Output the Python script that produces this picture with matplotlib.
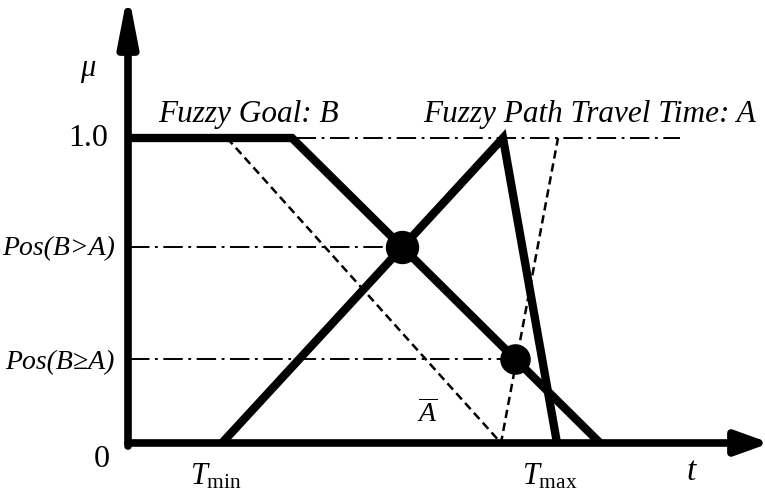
import matplotlib
matplotlib.use('Agg')
import numpy as np
from matplotlib import pyplot as plt

plt.rcParams['font.family'] = ['Liberation Serif', 'DejaVu Serif']
plt.rcParams['mathtext.fontset'] = 'custom'
plt.rcParams['mathtext.rm'] = 'Liberation Serif'
plt.rcParams['mathtext.it'] = 'Liberation Serif:italic'
plt.rcParams['lines.scale_dashes'] = False

# fuzzy goal B (trapezoid going down)
goal_t = [0.0, 1.62, 4.70]
goal_mu = [1.0, 1.0, 0.0]

# fuzzy path travel time A (triangle)
path_t = [0.92, 3.73, 4.27]
path_mu = [0.0, 1.0, 0.0]

# A-bar (dashed, mirrored)
abar_t = [0.97, 3.71, 4.28]
abar_mu = [1.0, 0.0, 1.0]

pos_strict = 0.643   # Pos(B>A)
pos_weak = 0.275     # Pos(B>=A)
top_line_end = 5.50

t_min = 0.92
t_max = 4.27


def goal_at(mu):
    # t on falling edge of B for a given membership
    return np.interp(-mu, [-1.0, 0.0], [goal_t[1], goal_t[2]])


fig = plt.figure(figsize=(7.65, 4.93), dpi=100)
ax = fig.add_axes([0, 0, 1, 1])
ax.set_xlim(-1.30, 6.35)
ax.set_ylim(-0.164, 1.4525)
ax.axis('off')

dashdot = (0, (14, 4, 2, 4))
dashed = (0, (6, 3.5))

# dash-dot reference lines
ax.plot([0, top_line_end], [1.0, 1.0], color='black', lw=1.4, linestyle=dashdot)
ax.plot([0, goal_at(pos_strict)], [pos_strict, pos_strict], color='black', lw=1.4, linestyle=dashdot)
ax.plot([0, goal_at(pos_weak)], [pos_weak, pos_weak], color='black', lw=1.4, linestyle=dashdot)

# A bar
ax.plot(abar_t, abar_mu, color='black', lw=1.8, linestyle=dashed)

# B and A
ax.plot(goal_t, goal_mu, color='black', lw=6, solid_joinstyle='miter', solid_capstyle='butt')
ax.plot(path_t, path_mu, color='black', lw=6, solid_joinstyle='miter', solid_capstyle='butt')

# intersection points
ax.plot(goal_at(pos_strict), pos_strict, 'o', color='black', markersize=23)
ax.plot(goal_at(pos_weak), pos_weak, 'o', color='black', markersize=21)

# axes with arrows
ax.annotate('', xy=(6.40, 0), xytext=(-0.02, 0), annotation_clip=False,
            arrowprops=dict(arrowstyle='-|>,head_length=1.0,head_width=0.36',
                            mutation_scale=20, lw=5.5, color='black',
                            shrinkA=0, shrinkB=0))
ax.annotate('', xy=(-0.02, 1.48), xytext=(-0.02, -0.01), annotation_clip=False,
            arrowprops=dict(arrowstyle='-|>,head_length=1.45,head_width=0.28',
                            mutation_scale=20, lw=5.5, color='black',
                            shrinkA=0, shrinkB=0))

# labels
ax.text(-0.42, 1.22, r'$\mu$', fontsize=22, ha='center', va='center')
ax.text(-0.22, 1.0, '1.0', fontsize=23, ha='right', va='center')
ax.text(-0.15, pos_strict - 0.005, 'Pos(B>A)', fontsize=20, style='italic', ha='right', va='center')
ax.text(-0.15, pos_weak - 0.012, 'Pos(B≥A)', fontsize=20, style='italic', ha='right', va='center')
ax.text(-0.28, -0.055, '0', fontsize=23, ha='center', va='center')
ax.text(t_min - 0.06, -0.11, r'$T_{\mathrm{min}}$', fontsize=22, ha='center', va='center')
ax.text(t_max - 0.07, -0.11, r'$T_{\mathrm{max}}$', fontsize=22, ha='center', va='center')
ax.text(5.62, -0.095, r'$t$', fontsize=24, ha='center', va='center')
ax.text(2.97, 0.095, r'$\overline{A}$', fontsize=20, ha='center', va='center')
ax.text(0.28, 1.052, 'Fuzzy Goal: B', fontsize=22.5, style='italic', ha='left', va='baseline')
ax.text(2.93, 1.052, 'Fuzzy Path Travel Time: A', fontsize=22.5, style='italic', ha='left', va='baseline')

plt.savefig('out.png', dpi=100)
